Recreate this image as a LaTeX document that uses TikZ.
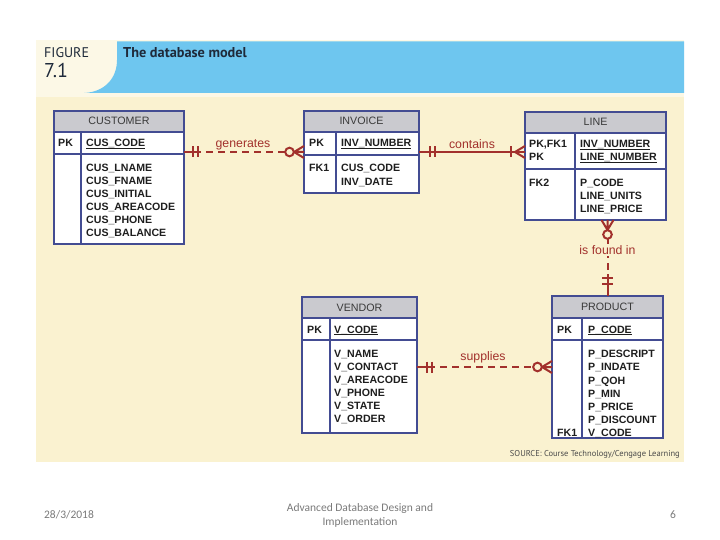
\documentclass[tikz,border=0pt]{standalone}
\usepackage{fontspec}
\setmainfont{Liberation Sans}
\newfontfamily\ptsans{PT Sans}
\newfontfamily\carlito{Carlito}
\definecolor{cream}{HTML}{FAF2D0}
\definecolor{headcream}{HTML}{FCF8E6}
\definecolor{headblue}{HTML}{6EC6EF}
\definecolor{tblblue}{HTML}{434C92}
\definecolor{hdrgray}{HTML}{CACACF}
\definecolor{hdrtext}{HTML}{3A3A3A}
\definecolor{attrtext}{HTML}{1E1E1E}
\definecolor{relred}{HTML}{A2312C}
\definecolor{footgray}{HTML}{7A7A7A}
\definecolor{srcgray}{HTML}{4A4A4A}
\definecolor{figtext}{HTML}{1F2A3A}
\begin{document}
\begin{tikzpicture}[x=1pt,y=-1pt,
  tbl/.style={draw=tblblue,line width=1.3pt,anchor=north west,inner sep=0pt,outer sep=0pt},
  sepline/.style={draw=tblblue,line width=1.3pt},
  hdr/.style={font=\fontsize{10.7}{12}\selectfont,text=hdrtext,anchor=base,inner sep=0pt},
  attr/.style={font=\fontsize{10.6}{12}\selectfont\bfseries,text=attrtext,anchor=base west,inner sep=0pt},
  ul/.style={draw=attrtext,line width=0.8pt},
  rel/.style={draw=relred,line width=2pt},
  dashrel/.style={rel,dash pattern=on 7pt off 5pt},
  rlab/.style={font=\fontsize{12.3}{14}\selectfont,text=relred,inner sep=1pt},
  foot/.style={font=\carlito\fontsize{11.5}{14}\selectfont,text=footgray,inner sep=0pt}]
\useasboundingbox (0,0) rectangle (720,540);
\fill[white] (0,0) rectangle (720,540);
% panel
\fill[cream] (36,40) rectangle (684,462);
\fill[headcream] (36,40) rectangle (684,97);
\fill[headblue] (117,41.5) -- (684,41.5) -- (684,93) -- (84,93) .. controls (105,92) and (117,78) .. (117,60) -- cycle;
\node[anchor=base west,font=\ptsans\fontsize{14}{14}\selectfont,text=figtext,inner sep=0pt] (fig) at (44,58) {FIGURE};
\node[anchor=base west,font=\ptsans\fontsize{20}{20}\selectfont,text=figtext,inner sep=0pt] (num) at (44,78) {7.1};
\node[anchor=base west,font=\ptsans\fontsize{14.3}{14}\selectfont\bfseries,text=figtext,inner sep=0pt] (ttl) at (123,58) {The database model};
\node[anchor=base east,font=\ptsans\fontsize{8.5}{8}\selectfont,text=srcgray,inner sep=0pt] (src) at (680,456) {SOURCE: Course Technology/Cengage Learning};

% CUSTOMER
\fill[white] (54,111) rectangle (184,244);
\fill[hdrgray] (54,111) rectangle (184,132);
\node[tbl,minimum width=130pt,minimum height=133pt] (cust) at (54,111) {};
\draw[sepline] (54,132) -- (184,132) (54,154) -- (184,154) (81,132) -- (81,244);
\node[hdr] (cust-t) at (119,125) {CUSTOMER};
\node[attr] (cust-k) at (58,147) {PK};
\node[attr] (cust-pk) at (86,147) {CUS\_CODE};
\draw[ul] ([yshift=-1.8pt]cust-pk.base west) -- ([yshift=-1.8pt]cust-pk.base east);
\foreach \t [count=\i from 0] in {CUS\_LNAME,CUS\_FNAME,CUS\_INITIAL,CUS\_AREACODE,CUS\_PHONE,CUS\_BALANCE}
  \node[attr] (cust-a\i) at (86,{172+12.9*\i}) {\t};

% INVOICE
\fill[white] (304,111) rectangle (419,193);
\fill[hdrgray] (304,111) rectangle (419,132);
\node[tbl,minimum width=115pt,minimum height=82pt] (inv) at (304,111) {};
\draw[sepline] (304,132) -- (419,132) (304,155) -- (419,155) (336,132) -- (336,193);
\node[hdr] (inv-t) at (361.5,125) {INVOICE};
\node[attr] (inv-k) at (309,147) {PK};
\node[attr] (inv-pk) at (341,147) {INV\_NUMBER};
\draw[ul] ([yshift=-1.8pt]inv-pk.base west) -- ([yshift=-1.8pt]inv-pk.base east);
\node[attr] (inv-fk) at (309,172) {FK1};
\node[attr] (inv-a0) at (341,172) {CUS\_CODE};
\node[attr] (inv-a1) at (341,185.5) {INV\_DATE};

% LINE
\fill[white] (525,112) rectangle (666,220);
\fill[hdrgray] (525,112) rectangle (666,133);
\node[tbl,minimum width=141pt,minimum height=108pt] (line) at (525,112) {};
\draw[sepline] (525,133) -- (666,133) (525,169) -- (666,169) (575,133) -- (575,220);
\node[hdr] (line-t) at (595.5,126) {LINE};
\node[attr] (line-k1) at (529,147.8) {PK,FK1};
\node[attr] (line-pk1) at (580,147.8) {INV\_NUMBER};
\draw[ul] ([yshift=-1.8pt]line-pk1.base west) -- ([yshift=-1.8pt]line-pk1.base east);
\node[attr] (line-k2) at (529,160.5) {PK};
\node[attr] (line-pk2) at (580,160.5) {LINE\_NUMBER};
\draw[ul] ([yshift=-1.8pt]line-pk2.base west) -- ([yshift=-1.8pt]line-pk2.base east);
\node[attr] (line-fk) at (529,186.5) {FK2};
\node[attr] (line-a0) at (580,186.5) {P\_CODE};
\node[attr] (line-a1) at (580,199.5) {LINE\_UNITS};
\node[attr] (line-a2) at (580,212.2) {LINE\_PRICE};

% VENDOR
\fill[white] (302,297) rectangle (417,433);
\fill[hdrgray] (302,297) rectangle (417,318);
\node[tbl,minimum width=115pt,minimum height=136pt] (vend) at (302,297) {};
\draw[sepline] (302,318) -- (417,318) (302,340) -- (417,340) (330,318) -- (330,433);
\node[hdr] (vend-t) at (359.5,311) {VENDOR};
\node[attr] (vend-k) at (307,333) {PK};
\node[attr] (vend-pk) at (334,333) {V\_CODE};
\draw[ul] ([yshift=-1.8pt]vend-pk.base west) -- ([yshift=-1.8pt]vend-pk.base east);
\foreach \t [count=\i from 0] in {V\_NAME,V\_CONTACT,V\_AREACODE,V\_PHONE,V\_STATE,V\_ORDER}
  \node[attr] (vend-a\i) at (334,{357.8+13*\i}) {\t};

% PRODUCT
\fill[white] (552,296) rectangle (663,438);
\fill[hdrgray] (552,296) rectangle (663,318);
\node[tbl,minimum width=111pt,minimum height=142pt] (prod) at (552,296) {};
\draw[sepline] (552,318) -- (663,318) (552,340) -- (663,340) (582,318) -- (582,438);
\node[hdr] (prod-t) at (607.5,310.5) {PRODUCT};
\node[attr] (prod-k) at (557,333) {PK};
\node[attr] (prod-pk) at (588,333) {P\_CODE};
\draw[ul] ([yshift=-1.8pt]prod-pk.base west) -- ([yshift=-1.8pt]prod-pk.base east);
\foreach \t [count=\i from 0] in {P\_DESCRIPT,P\_INDATE,P\_QOH,P\_MIN,P\_PRICE,P\_DISCOUNT,V\_CODE}
  \node[attr] (prod-a\i) at (588,{357.8+13.1*\i}) {\t};
\node[attr] (prod-fk) at (557,436.4) {FK1};

% generates
\coordinate (gA) at ([yshift=-41pt]cust.north east);
\coordinate (gB) at ([yshift=-41pt]inv.north west);
\draw[rel] (gA) -- ([xshift=17pt]gA);
\draw[rel] ([xshift=9pt]gA) ++(0,-5.5) -- ++(0,11);
\draw[rel] ([xshift=14pt]gA) ++(0,-5.5) -- ++(0,11);
\draw[dashrel] ([xshift=22pt]gA) -- ([xshift=-19pt]gB);
\draw[rel,fill=cream] ([xshift=-14.5pt]gB) circle[radius=4.3pt];
\draw[rel] ([xshift=-10pt]gB) -- (gB) ([xshift=-10pt]gB) -- ([yshift=6pt]gB) ([xshift=-10pt]gB) -- ([yshift=-6pt]gB);
\node[rlab] (gen) at (243,144.5) {generates};

% contains
\coordinate (cA) at ([yshift=-41pt]inv.north east);
\coordinate (cB) at ([yshift=-40pt]line.north west);
\draw[rel] (cA) -- (cB);
\draw[rel] ([xshift=11pt]cA) ++(0,-5.5) -- ++(0,11);
\draw[rel] ([xshift=15.5pt]cA) ++(0,-5.5) -- ++(0,11);
\draw[rel] ([xshift=-14pt]cB) ++(0,-5.5) -- ++(0,11);
\draw[rel] ([xshift=-10pt]cB) -- ([yshift=6pt]cB) ([xshift=-10pt]cB) -- ([yshift=-6pt]cB);
\node[rlab] (con) at (472,144) {contains};

% is found in
\coordinate (fA) at (line.south -| prod.north);
\coordinate (fB) at (prod.north);
\draw[rel] ([yshift=-10pt]fA) -- (fA) ([yshift=-10pt]fA) -- ([xshift=6pt]fA) ([yshift=-10pt]fA) -- ([xshift=-6pt]fA);
\draw[rel,fill=cream] ([yshift=-14.5pt]fA) circle[radius=4.3pt];
\draw[dashrel] ([yshift=-19pt]fA) -- ([yshift=22pt]fB);
\draw[rel] ([yshift=22pt]fB) -- (fB);
\draw[rel] ([yshift=18pt]fB) ++(-5.5,0) -- ++(11,0);
\draw[rel] ([yshift=12.5pt]fB) ++(-5.5,0) -- ++(11,0);
\node[rlab,fill=cream] (fnd) at (607.5,250) {is found in};

% supplies
\coordinate (sA) at ([yshift=-70pt]vend.north east);
\coordinate (sB) at ([yshift=-71pt]prod.north west);
\draw[rel] (sA) -- ([xshift=18pt]sA);
\draw[rel] ([xshift=10pt]sA) ++(0,-5.5) -- ++(0,11);
\draw[rel] ([xshift=15pt]sA) ++(0,-5.5) -- ++(0,11);
\draw[dashrel] ([xshift=23pt]sA) -- ([xshift=-19pt]sB);
\draw[rel,fill=cream] ([xshift=-14.5pt]sB) circle[radius=4.3pt];
\draw[rel] ([xshift=-10pt]sB) -- (sB) ([xshift=-10pt]sB) -- ([yshift=6pt]sB) ([xshift=-10pt]sB) -- ([yshift=-6pt]sB);
\node[rlab] (sup) at (483,357) {supplies};

% footer
\node[foot] (date) at (69,515) {28/3/2018};
\node[foot,align=center] (ftitle) at (360,515) {Advanced Database Design and\\Implementation};
\node[foot] (pg) at (673,515) {6};
\end{tikzpicture}
\end{document}
